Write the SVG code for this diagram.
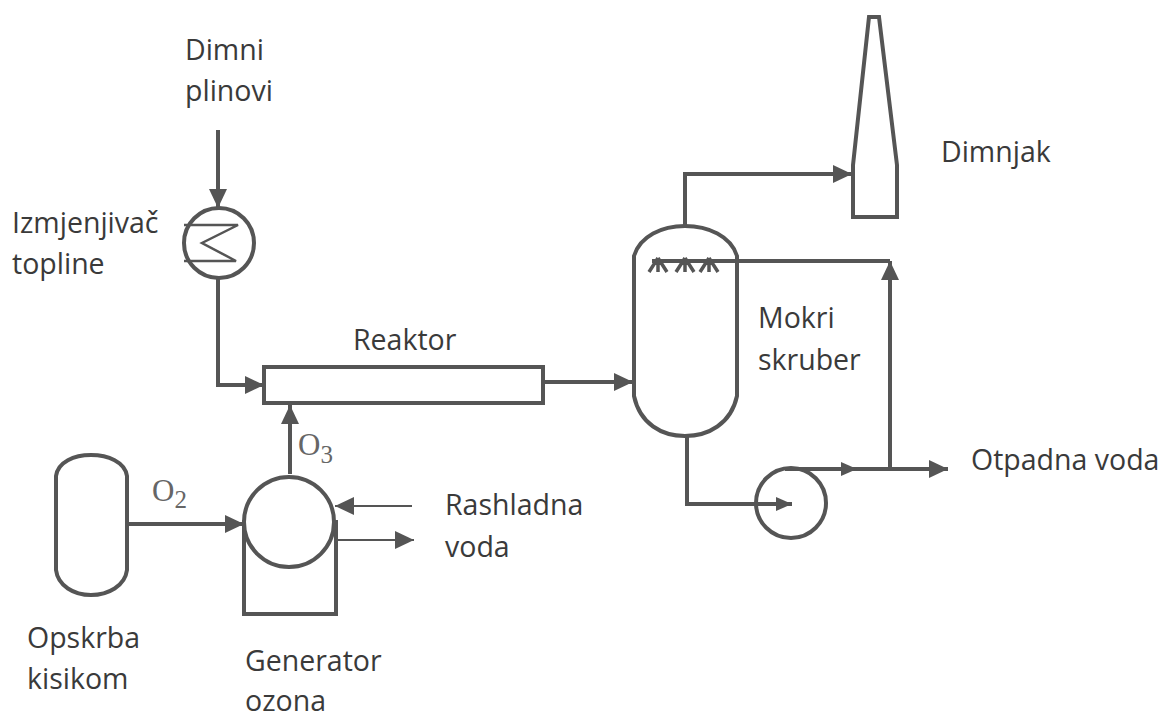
<svg xmlns="http://www.w3.org/2000/svg" width="1165" height="720" viewBox="0 0 1165 720">
<defs>
<marker id="a" markerUnits="userSpaceOnUse" markerWidth="22" markerHeight="22" refX="19" refY="10" orient="auto"><path d="M0 1 L19 10 L0 19Z" fill="#555"/></marker>
<marker id="b" markerUnits="userSpaceOnUse" markerWidth="22" markerHeight="18" refX="16" refY="8" orient="auto"><path d="M0 1 L16 8 L0 15Z" fill="#555"/></marker>
</defs>
<style>
.s{fill:none;stroke:#555;stroke-width:4}
.c{fill:none;stroke:#555;stroke-width:4;marker-end:url(#a)}
.d{fill:none;stroke:#555;stroke-width:4;marker-end:url(#b)}
.h{fill:none;stroke:#555;stroke-width:2;marker-end:url(#a)}
.t{font-family:"Open Sans","Noto Sans",sans-serif;font-size:28.500px;fill:#3a3a3a}
.f{font-family:"Liberation Serif",serif;font-size:31px;fill:#666}
.u{font-size:25px}
</style>
<rect width="1165" height="720" fill="#fff"/>
<g id="connectors">
<path class="c" d="M218 130V208"/>
<path class="c" d="M218 279V385H264"/>
<path class="c" d="M290 474V405"/>
<path class="c" d="M128 524H244"/>
<path class="c" d="M543 382H633"/>
<path class="c" d="M685 226V174H852"/>
<path class="c" d="M890 469V261"/>
<path class="s" d="M652 261H890"/>
<path class="d" d="M687 436V504H792"/>
<path class="d" d="M785 469H857"/>
<path class="c" d="M857 469H948"/>
<path class="h" d="M412 506H335"/>
<path class="h" d="M338 540H414"/>
</g>
<g id="stack"><path class="s" d="M869 17H879L897 165V217H853V165Z"/></g>
<g id="scrubber"><path class="s" d="M634 256C640 236 662 226 685 226C708 226 731 236 737 256V396C731 424 708 436 685 436C662 436 640 424 634 396Z"/>
<path class="s" style="stroke-width:3.500" d="M658 258L649 272M658 258L667 272M658 258V272M685 258L676 272M685 258L694 272M685 258V272M709 258L700 272M709 258L718 272M709 258V272"/></g>
<g id="exchanger"><circle class="s" cx="219" cy="243" r="35"/><path class="s" style="stroke-width:2.500" d="M184 225H238L202 243L236 261H184"/></g>
<g id="reactor"><rect class="s" x="264" y="367" width="279" height="36"/></g>
<g id="oxygen"><path class="s" d="M56 476C58 462 74 455 91 455C108 455 125 462 127 476V570C125 586 108 595 91 595C74 595 58 586 56 570Z"/></g>
<g id="generator"><path class="s" d="M244 520V614H336V520"/><circle cx="289" cy="522" r="45" fill="#fff" stroke="#555" stroke-width="4"/></g>
<g id="pump"><circle class="s" cx="791" cy="503" r="35"/></g>
<g id="labels">
<text class="t" x="185" y="60">Dimni</text><text class="t" x="185" y="101">plinovi</text>
<text class="t" x="12" y="233">Izmjenjivač</text><text class="t" x="12" y="274">topline</text>
<text class="t" x="353" y="350">Reaktor</text>
<text class="t" x="941" y="162">Dimnjak</text>
<text class="t" x="758" y="328">Mokri</text><text class="t" x="758" y="370">skruber</text>
<text class="t" x="971" y="470">Otpadna voda</text>
<text class="t" x="445" y="515">Rashladna</text><text class="t" x="445" y="557">voda</text>
<text class="t" x="27" y="648">Opskrba</text><text class="t" x="27" y="689">kisikom</text>
<text class="t" x="245" y="671">Generator</text><text class="t" x="245" y="711">ozona</text>
<text class="f" x="152" y="501">O<tspan class="u" dy="7">2</tspan></text>
<text class="f" x="298" y="455">O<tspan class="u" dy="8">3</tspan></text>
</g>
</svg>
